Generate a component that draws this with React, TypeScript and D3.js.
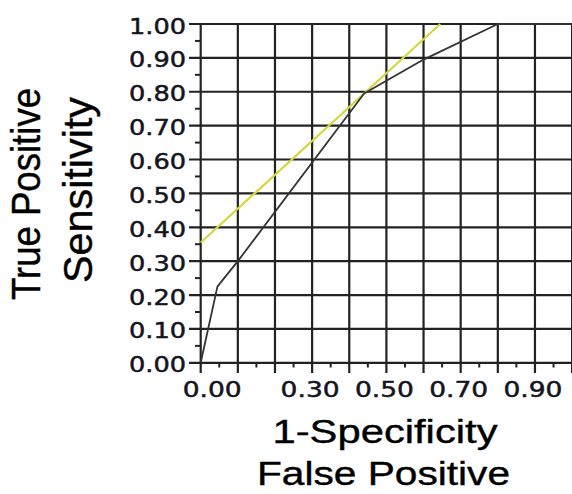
import * as d3 from "d3";

// ROC curve
const fpr = [0, 0.045, 0.1, 0.44, 0.6, 0.8, 1.0];
const tpr = [0, 0.225, 0.3, 0.795, 0.895, 1.0, 1.0];

// yellow reference line
const refFpr = [0, 0.645];
const refTpr = [0.355, 1.0];

const gridValues = [0, 0.1, 0.2, 0.3, 0.4, 0.5, 0.6, 0.7, 0.8, 0.9, 1.0];
const minorValues = [0.05, 0.15, 0.25, 0.35, 0.45, 0.55, 0.65, 0.75, 0.85, 0.95];
const yTickValues = [0, 0.1, 0.2, 0.3, 0.4, 0.5, 0.6, 0.7, 0.8, 0.9, 1.0];
const yTickLabels = ["0.00", "0.10", "0.20", "0.30", "0.40", "0.50", "0.60", "0.70", "0.80", "0.90", "1.00"];
const xTickValues = [0, 0.3, 0.5, 0.7, 0.9];
const xTickLabels = ["0.00", "0.30", "0.50", "0.70", "0.90"];

export default function App() {
  const width = 572,
    height = 494;
  const x = d3.scaleLinear().domain([0, 1]).range([200.7, 572.1]);
  const y = d3.scaleLinear().domain([0, 1]).range([362.8, 24]);

  const line = d3
    .line<[number, number]>()
    .x((d) => x(d[0]))
    .y((d) => y(d[1]));

  const roc = line(fpr.map((f, i) => [f, tpr[i]]));
  const ref = line(refFpr.map((f, i) => [f, refTpr[i]]));

  const gridColor = "#222";
  const tickFont = "DejaVu Sans";
  const titleFont = "Liberation Sans";
  const labelColor = "#14141e";

  return (
    <svg
      width={width}
      height={height}
      style={{ position: "absolute", left: 0, top: 0, background: "white" }}
    >
      {/* horizontal grid + left ticks */}
      <g className="y-grid">
        {gridValues.map((v) => (
          <line key={v} x1={189} x2={width} y1={y(v)} y2={y(v)} stroke={gridColor} strokeWidth={2.2} />
        ))}
        {minorValues.map((v) => (
          <line key={v} x1={195} x2={x(0)} y1={y(v)} y2={y(v)} stroke={gridColor} strokeWidth={2} />
        ))}
      </g>
      {/* vertical grid + bottom ticks */}
      <g className="x-grid">
        {gridValues.map((v) => (
          <line key={v} x1={x(v)} x2={x(v)} y1={y(1)} y2={373} stroke={gridColor} strokeWidth={2.2} />
        ))}
        {minorValues.map((v) => (
          <line key={v} x1={x(v)} x2={x(v)} y1={y(0)} y2={367.5} stroke={gridColor} strokeWidth={2} />
        ))}
      </g>

      <path d={ref ?? ""} fill="none" stroke="#d6d63e" strokeWidth={2.2} />
      <path d={roc ?? ""} fill="none" stroke="#333" strokeWidth={1.8} strokeLinejoin="round" />

      {/* y tick labels */}
      <g className="y-labels" fontFamily={tickFont} fontSize={22} fill={labelColor} stroke={labelColor} strokeWidth={0.5}>
        {yTickValues.map((v, i) => (
          <text
            key={v}
            x={186}
            y={y(v) + 9.5}
            textAnchor="end"
            textLength={57}
            lengthAdjust="spacingAndGlyphs"
          >
            {yTickLabels[i]}
          </text>
        ))}
      </g>
      {/* x tick labels */}
      <g className="x-labels" fontFamily={tickFont} fontSize={22} fill={labelColor} stroke={labelColor} strokeWidth={0.5}>
        {xTickValues.map((v, i) => (
          <text
            key={v}
            x={i === 0 ? x(v) - 18 : x(v) - 2}
            y={396.5}
            textAnchor={i === 0 ? "start" : "middle"}
            textLength={59}
            lengthAdjust="spacingAndGlyphs"
          >
            {xTickLabels[i]}
          </text>
        ))}
      </g>

      {/* axis titles */}
      <g fontFamily={titleFont} fill="#000" stroke="#000" strokeWidth={0.4}>
        <text x={385} y={442.5} fontSize={34} textAnchor="middle" textLength={225} lengthAdjust="spacingAndGlyphs">
          1-Specificity
        </text>
        <text x={383.5} y={485} fontSize={34} textAnchor="middle" textLength={253} lengthAdjust="spacingAndGlyphs">
          False Positive
        </text>
        <text
          transform="translate(40,194) rotate(-90)"
          fontSize={41}
          textAnchor="middle"
          textLength={212}
          lengthAdjust="spacingAndGlyphs"
        >
          True Positive
        </text>
        <text
          transform="translate(92,190) rotate(-90)"
          fontSize={41}
          textAnchor="middle"
          textLength={186}
          lengthAdjust="spacingAndGlyphs"
        >
          Sensitivity
        </text>
      </g>
    </svg>
  );
}
